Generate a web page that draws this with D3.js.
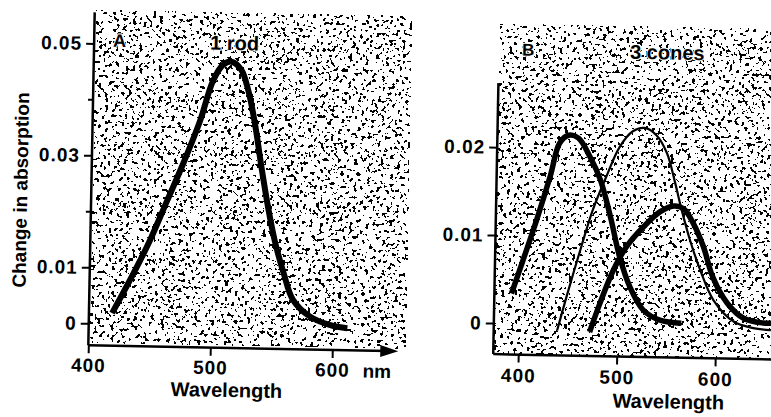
<!DOCTYPE html>
<html>
<head>
<meta charset="utf-8">
<script src="https://cdn.jsdelivr.net/npm/d3@7"></script>
<style>
  body { margin: 0; background: #fff; }
  text { font-family: "Liberation Sans", Arial, Helvetica, sans-serif; font-weight: bold; fill: #000; }
  text.inpanel { stroke: #fff; stroke-width: 2px; paint-order: stroke; }
</style>
</head>
<body>
<div id="chart"></div>
<script>
// values
var rodWl  = [419, 436, 449, 462, 475, 488, 498, 506, 513, 521, 527, 533, 539, 545, 551, 559, 567, 581, 598, 612];
var rodAbs = [0.0019, 0.0091, 0.0151, 0.0220, 0.0289, 0.0365, 0.0437, 0.0466, 0.0472, 0.0458, 0.0422, 0.0363, 0.0286, 0.0215, 0.0155, 0.0096, 0.0049, 0.0020, 0.0005, 0.0000];

var sConeWl  = [392, 403, 416, 429, 438, 447, 457, 469, 480, 491, 501, 512, 526, 543, 565];
var sConeAbs = [0.0034, 0.0072, 0.0118, 0.0168, 0.0206, 0.0215, 0.0212, 0.0191, 0.0165, 0.0123, 0.0078, 0.0044, 0.0018, 0.0007, 0.0004];

var mConeWl  = [439, 448, 461, 473, 486, 499, 512, 524, 536, 547, 556, 563, 572, 583, 597, 618, 638, 656];
var mConeAbs = [-0.0007, 0.0032, 0.0085, 0.0131, 0.0169, 0.0203, 0.0221, 0.0225, 0.0217, 0.0197, 0.0163, 0.0133, 0.0099, 0.0065, 0.0031, 0.0007, 0.0000, -0.0002];

var lConeWl  = [472, 482, 495, 508, 525, 541, 555, 565, 575, 586, 596, 611, 628, 648, 657];
var lConeAbs = [-0.0008, 0.0025, 0.0063, 0.0090, 0.0113, 0.0130, 0.0137, 0.0134, 0.0118, 0.0091, 0.0057, 0.0028, 0.0011, 0.0006, 0.0006];

var rodTicks   = [0, 0.01, 0.03, 0.05];
var rodMinor   = [0.02, 0.04];
var coneTicks  = [0, 0.01, 0.02];
var wlTicks    = [400, 500, 600];

var yTitle = "Change in absorption";
var xTitle = "Wavelength";
var unitLabel = "nm";
var panelLetters = ["A", "B"];
var panelNames = ["1 rod", "3 cones"];

var width = 771, height = 417;

var svg = d3.select("#chart").append("svg")
  .attr("width", width)
  .attr("height", height);

// speckled print background
var filt = svg.append("defs").append("filter")
  .attr("id", "speckle")
  .attr("x", 0).attr("y", 0).attr("width", 1).attr("height", 1)
  .attr("color-interpolation-filters", "sRGB");
filt.append("feTurbulence")
  .attr("type", "fractalNoise")
  .attr("baseFrequency", 0.3)
  .attr("numOctaves", 3)
  .attr("seed", 7);
filt.append("feColorMatrix")
  .attr("type", "matrix")
  .attr("values", "0 0 0 0 0  0 0 0 0 0  0 0 0 0 0  1 0 0 0 0");
filt.append("feComponentTransfer").append("feFuncA")
  .attr("type", "discrete")
  .attr("tableValues", "0 0 0 0 0 0 0 0 0 0 0 0 1 1 1 1 1 1 1 1");

// the scan is turned a little clockwise
var g = svg.append("g").attr("transform", "rotate(1.1," + (width / 2) + "," + (height / 2) + ")");

var line = function(x, y) {
  return d3.line()
    .x(function(d) { return x(d[0]); })
    .y(function(d) { return y(d[1]); })
    .curve(d3.curveCatmullRom.alpha(0.5));
};

var fmt = function(d) { return d === 0 ? "0" : d3.format(".2f")(d); };

// ---------- panel A ----------
var boxA = { left: 91, top: 18, right: 406, bottom: 351 };
var xA = d3.scaleLinear().domain([400, 600]).range([91, 335]);
var yA = d3.scaleLinear().domain([0, 0.05]).range([329, 49]);

g.append("rect")
  .attr("x", boxA.left + 2).attr("y", boxA.top - 2)
  .attr("width", boxA.right - boxA.left).attr("height", boxA.bottom - boxA.top - 1)
  .attr("filter", "url(#speckle)");

g.append("path")
  .attr("d", line(xA, yA)(d3.zip(rodWl, rodAbs)))
  .attr("fill", "none").attr("stroke", "#000").attr("stroke-width", 6);

var yAxisA = g.append("g").attr("transform", "translate(" + boxA.left + ",0)")
  .call(d3.axisLeft(yA).tickValues(rodTicks).tickSize(8).tickPadding(4).tickFormat(fmt));
var yMinorA = g.append("g").attr("transform", "translate(" + boxA.left + ",0)")
  .call(d3.axisLeft(yA).tickValues(rodMinor).tickSize(5).tickFormat(""));
var xAxisA = g.append("g").attr("transform", "translate(0," + boxA.bottom + ")")
  .call(d3.axisBottom(xA).tickValues(wlTicks).tickSize(8).tickPadding(5));

g.append("line")
  .attr("x1", boxA.left).attr("x2", boxA.left)
  .attr("y1", boxA.top).attr("y2", boxA.bottom)
  .attr("stroke", "#000").attr("stroke-width", 2.5);
g.append("line")
  .attr("x1", boxA.left).attr("x2", 390)
  .attr("y1", boxA.bottom).attr("y2", boxA.bottom)
  .attr("stroke", "#000").attr("stroke-width", 2.5);
g.append("path")
  .attr("d", "M401," + boxA.bottom + "L383," + (boxA.bottom - 6) + "L383," + (boxA.bottom + 6) + "Z")
  .attr("fill", "#000");

g.append("text").attr("x", 380).attr("y", 378)
  .attr("text-anchor", "middle").style("font-size", "19px").text(unitLabel);
g.append("text").attr("x", 230).attr("y", 400)
  .attr("text-anchor", "middle").style("font-size", "20px").text(xTitle);
g.append("text")
  .attr("transform", "translate(27,197) rotate(-90)")
  .attr("text-anchor", "middle").style("font-size", "19px").text(yTitle);
g.append("text").attr("class", "inpanel").attr("x", 110).attr("y", 52).style("font-size", "18px").text(panelLetters[0]);
g.append("text").attr("class", "inpanel").attr("x", 207).attr("y", 53).style("font-size", "20px").text(panelNames[0]);

// ---------- panel B ----------
var boxB = { left: 496, top: 81, right: 800, bottom: 352 };
var xB = d3.scaleLinear().domain([400, 600]).range([521, 718]);
var yB = d3.scaleLinear().domain([0, 0.02]).range([321, 145]);

g.append("rect")
  .attr("x", boxB.left + 1).attr("y", 22)
  .attr("width", boxB.right - boxB.left).attr("height", boxB.bottom - 22 - 1)
  .attr("filter", "url(#speckle)");

var cones = [
  { wl: sConeWl, v: sConeAbs, w: 5.5 },
  { wl: mConeWl, v: mConeAbs, w: 2.2 },
  { wl: lConeWl, v: lConeAbs, w: 5.5 }
];
g.selectAll(".cone").data(cones).enter().append("path")
  .attr("class", "cone")
  .attr("d", function(c) { return line(xB, yB)(d3.zip(c.wl, c.v)); })
  .attr("fill", "none").attr("stroke", "#000")
  .attr("stroke-width", function(c) { return c.w; });

var yAxisB = g.append("g").attr("transform", "translate(" + boxB.left + ",0)")
  .call(d3.axisLeft(yB).tickValues(coneTicks).tickSize(8).tickPadding(4).tickFormat(fmt));
var xAxisB = g.append("g").attr("transform", "translate(0," + boxB.bottom + ")")
  .call(d3.axisBottom(xB).tickValues(wlTicks).tickSize(8).tickPadding(6));

g.append("line")
  .attr("x1", boxB.left).attr("x2", boxB.left)
  .attr("y1", boxB.top).attr("y2", boxB.bottom)
  .attr("stroke", "#000").attr("stroke-width", 2.5);
g.append("line")
  .attr("x1", boxB.left).attr("x2", boxB.right)
  .attr("y1", boxB.bottom).attr("y2", boxB.bottom)
  .attr("stroke", "#000").attr("stroke-width", 2.5);

g.append("text").attr("x", 672).attr("y", 403)
  .attr("text-anchor", "middle").style("font-size", "20px").text(xTitle);
g.append("text").attr("class", "inpanel").attr("x", 519).attr("y", 53).style("font-size", "17px").text(panelLetters[1]);
g.append("text").attr("class", "inpanel").attr("x", 627).attr("y", 54).style("font-size", "20px").text(panelNames[1]);

// axis styling
[yAxisA, yMinorA, xAxisA, yAxisB, xAxisB].forEach(function(ax) {
  ax.select(".domain").remove();
  ax.selectAll(".tick line").attr("stroke", "#000").attr("stroke-width", 2);
  ax.selectAll(".tick text")
    .attr("fill", "#000")
    .style("font-family", "'Liberation Sans', Arial, sans-serif")
    .style("font-weight", "bold")
    .style("font-size", "19px")
    .style("letter-spacing", "1px");
});
</script>
</body>
</html>
